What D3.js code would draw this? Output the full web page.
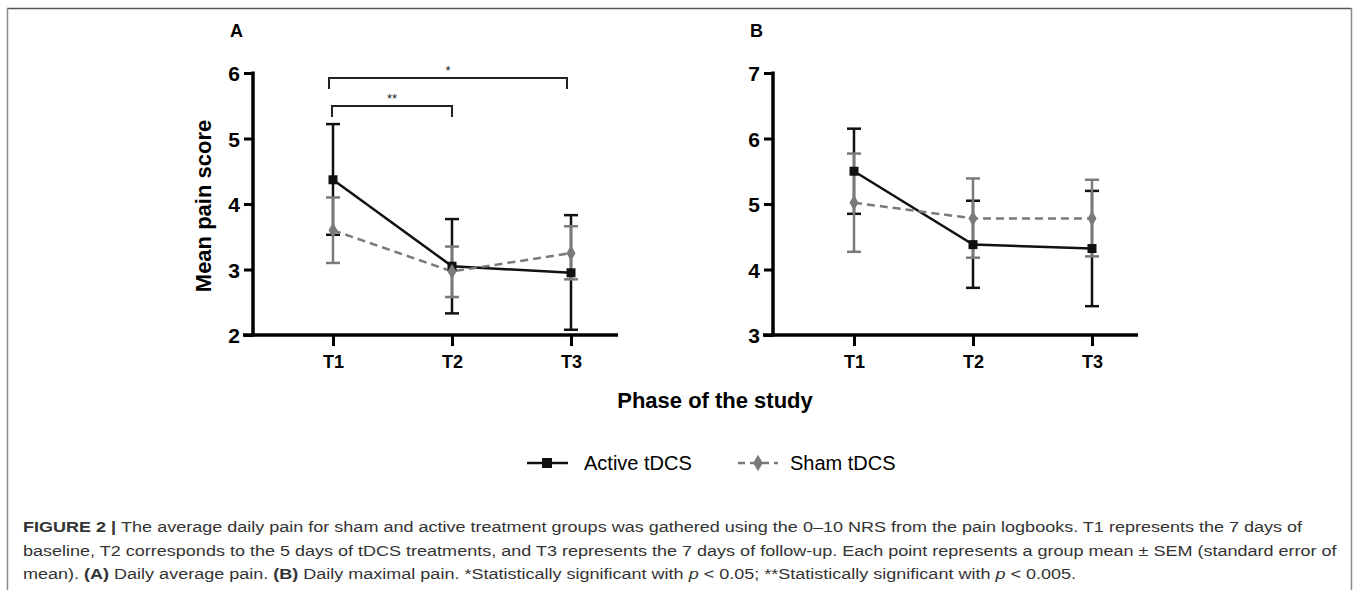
<!DOCTYPE html>
<html><head><meta charset="utf-8">
<script src="https://cdn.jsdelivr.net/npm/d3@7"></script>
<style>body{margin:0;background:#fff}svg{display:block}</style>
</head><body>
<svg id="c" width="1358" height="590"></svg>
<script>
const phases = ["T1","T2","T3"];
// Panel A: Daily average pain
const activeA = [4.37, 3.05, 2.95];
const activeA_hi = [5.22, 3.77, 3.83];
const activeA_lo = [3.53, 2.33, 2.08];
const shamA = [3.60, 2.97, 3.25];
const shamA_hi = [4.10, 3.35, 3.66];
const shamA_lo = [3.10, 2.58, 2.85];
// Panel B: Daily maximal pain
const activeB = [5.50, 4.38, 4.32];
const activeB_hi = [6.15, 5.05, 5.20];
const activeB_lo = [4.85, 3.72, 3.44];
const shamB = [5.02, 4.78, 4.78];
const shamB_hi = [5.77, 5.39, 5.37];
const shamB_lo = [4.27, 4.18, 4.20];
const yTicksA = [2,3,4,5,6];
const yTicksB = [3,4,5,6,7];
const sigLabels = ["*","**"];

const svg = d3.select("#c");
const F = "'Liberation Sans', Arial, sans-serif";

// Figure border
svg.append("line").attr("x1",7).attr("x2",1351).attr("y1",8.5).attr("y2",8.5).attr("stroke","#555").attr("stroke-width",1.5);
svg.append("line").attr("x1",7.5).attr("x2",7.5).attr("y1",8).attr("y2",590).attr("stroke","#888").attr("stroke-width",1.5);
svg.append("line").attr("x1",1351.5).attr("x2",1351.5).attr("y1",8).attr("y2",590).attr("stroke","#888").attr("stroke-width",1.5);

function panel(opts){
  const {axX, x1, x3, axEnd, domain, ticks, active, aHi, aLo, sham, sHi, sLo, label} = opts;
  const g = svg.append("g");
  const y = d3.scaleLinear().domain(domain).range([335, 73]);
  const x = d3.scalePoint().domain(phases).range([x1, x3]);
  g.append("text").attr("x", axX-23).attr("y", 37).attr("font-family",F).attr("font-weight","bold").attr("font-size",18).text(label);
  const ya = d3.axisLeft(y).tickValues(ticks).tickSize(9).tickSizeOuter(0).tickFormat(d3.format("d"));
  const yg = g.append("g").attr("transform",`translate(${axX},0)`).call(ya);
  yg.select(".domain").attr("stroke","#000").attr("stroke-width",3.5).attr("d",`M0,${y(domain[1])-1.5}V${335+1.5}`);
  yg.selectAll(".tick line").attr("stroke","#000").attr("stroke-width",3);
  yg.selectAll(".tick text").attr("font-family",F).attr("font-weight","bold").attr("font-size",21).attr("fill","#000").attr("x",-13).attr("dy","0.36em");
  const xa = d3.axisBottom(x).tickSize(11).tickSizeOuter(0);
  const xg = g.append("g").attr("transform",`translate(0,335)`).call(xa);
  xg.select(".domain").attr("stroke","#000").attr("stroke-width",3.5).attr("d",`M${axX-10},0H${axEnd}`);
  xg.selectAll(".tick line").attr("stroke","#000").attr("stroke-width",3);
  xg.selectAll(".tick text").attr("font-family",F).attr("font-weight","bold").attr("font-size",18).attr("fill","#000").attr("y",20).attr("dy","0.71em");

  const gray = "#7a7a7a";
  const capW = 7;
  function errbars(vals, hi, lo, color){
    vals.forEach((v,i)=>{
      const cx = x(phases[i]);
      g.append("line").attr("x1",cx).attr("x2",cx).attr("y1",y(hi[i])).attr("y2",y(lo[i])).attr("stroke",color).attr("stroke-width",2.5);
      [hi[i],lo[i]].forEach(e=>g.append("line").attr("x1",cx-capW).attr("x2",cx+capW).attr("y1",y(e)).attr("y2",y(e)).attr("stroke",color).attr("stroke-width",2.5));
    });
  }
  errbars(active, aHi, aLo, "#111");
  errbars(sham, sHi, sLo, gray);
  const line = d3.line().x((d,i)=>x(phases[i])).y(d=>y(d));
  g.append("path").datum(active).attr("d",line).attr("fill","none").attr("stroke","#111").attr("stroke-width",2.5);
  g.append("path").datum(sham).attr("d",line).attr("fill","none").attr("stroke",gray).attr("stroke-width",2.5).attr("stroke-dasharray","8,5");
  active.forEach((v,i)=>g.append("rect").attr("x",x(phases[i])-4.5).attr("y",y(v)-4.5).attr("width",9).attr("height",9).attr("fill","#111"));
  const diamond = d3.symbol().type(d3.symbolDiamond).size(70);
  sham.forEach((v,i)=>g.append("path").attr("d",diamond).attr("transform",`translate(${x(phases[i])},${y(v)})`).attr("fill",gray));
  return {x,y,g};
}

const pA = panel({axX:253, x1:333, x3:571, axEnd:618, domain:[2,6], ticks:yTicksA,
  active:activeA, aHi:activeA_hi, aLo:activeA_lo, sham:shamA, sHi:shamA_hi, sLo:shamA_lo, label:"A"});
const pB = panel({axX:773, x1:854, x3:1092, axEnd:1138, domain:[3,7], ticks:yTicksB,
  active:activeB, aHi:activeB_hi, aLo:activeB_lo, sham:shamB, sHi:shamB_hi, sLo:shamB_lo, label:"B"});

function bracket(xa, xb, yTop, h, lab){
  pA.g.append("path").attr("d",`M${xa},${yTop+h}V${yTop}H${xb}V${yTop+h}`).attr("fill","none").attr("stroke","#222").attr("stroke-width",2);
  pA.g.append("text").attr("x",(xa+xb)/2).attr("y",yTop-3).attr("text-anchor","middle").attr("font-family",F).attr("font-size",13).attr("fill","#222").text(lab);
}
bracket(pA.x("T1")-4, pA.x("T3")-4, 78, 11, sigLabels[0]);
bracket(pA.x("T1")-1, pA.x("T2"), 106, 11, sigLabels[1]);

svg.append("text").attr("transform","translate(211,206) rotate(-90)").attr("text-anchor","middle")
  .attr("font-family",F).attr("font-weight","bold").attr("font-size",22).text("Mean pain score");
svg.append("text").attr("x",715).attr("y",408).attr("text-anchor","middle")
  .attr("font-family",F).attr("font-weight","bold").attr("font-size",22).text("Phase of the study");

// legend
const LY = 463;
const lg = svg.append("g");
lg.append("line").attr("x1",527).attr("x2",568).attr("y1",LY).attr("y2",LY).attr("stroke","#111").attr("stroke-width",2.5);
lg.append("rect").attr("x",542).attr("y",LY-5).attr("width",10).attr("height",10).attr("fill","#111");
lg.append("text").attr("x",584).attr("y",LY+7).attr("font-family",F).attr("font-size",20).text("Active tDCS");
lg.append("line").attr("x1",738).attr("x2",778).attr("y1",LY).attr("y2",LY).attr("stroke","#7a7a7a").attr("stroke-width",2.5).attr("stroke-dasharray","7,5");
lg.append("path").attr("d",d3.symbol().type(d3.symbolDiamond).size(80)).attr("transform",`translate(758,${LY})`).attr("fill","#7a7a7a");
lg.append("text").attr("x",790).attr("y",LY+7).attr("font-family",F).attr("font-size",20).text("Sham tDCS");

// caption
const cap = svg.append("text").attr("font-family",F).attr("font-size",15.5).attr("fill","#333");
const l1 = cap.append("tspan").attr("x",0).attr("y",532);
l1.append("tspan").attr("font-weight","bold").text("FIGURE 2 | ");
l1.append("tspan").text("The average daily pain for sham and active treatment groups was gathered using the 0–10 NRS from the pain logbooks. T1 represents the 7 days of");
cap.append("tspan").attr("x",0).attr("y",556).text("baseline, T2 corresponds to the 5 days of tDCS treatments, and T3 represents the 7 days of follow-up. Each point represents a group mean ± SEM (standard error of");
const l3 = cap.append("tspan").attr("x",0).attr("y",579);
l3.append("tspan").text("mean). ");
l3.append("tspan").attr("font-weight","bold").text("(A)");
l3.append("tspan").text(" Daily average pain. ");
l3.append("tspan").attr("font-weight","bold").text("(B)");
l3.append("tspan").text(" Daily maximal pain. *Statistically significant with ");
l3.append("tspan").attr("font-style","italic").text("p");
l3.append("tspan").text(" < 0.05; **Statistically significant with ");
l3.append("tspan").attr("font-style","italic").text("p");
l3.append("tspan").text(" < 0.005.");
// horizontal stretch so line 1 spans the reference width
const w1 = l1.node().getComputedTextLength();
const sx = Math.max(0.9, Math.min(1.3, 1280 / w1));
cap.attr("transform", `translate(23,0) scale(${sx},1)`);
</script>
</body></html>
